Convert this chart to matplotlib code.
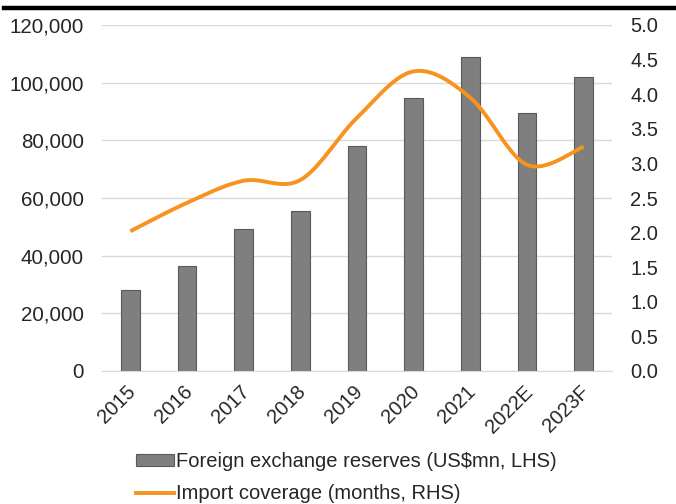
import numpy as np
import matplotlib
matplotlib.use("Agg")
import matplotlib.pyplot as plt
import matplotlib.transforms as mtransforms
from matplotlib.lines import Line2D
from matplotlib.patches import Patch
from matplotlib.ticker import FuncFormatter

plt.rcParams['font.family'] = ['Liberation Sans', 'DejaVu Sans']

categories = ["2015", "2016", "2017", "2018", "2019", "2020", "2021", "2022E", "2023F"]
reserves = [28100, 36400, 49200, 55500, 78000, 94800, 108900, 89600, 101800]
coverage = [2.02, 2.43, 2.75, 2.76, 3.66, 4.33, 3.95, 2.98, 3.24]

bar_color = "#7f7f80"
bar_edge = "#5a5a5a"
line_color = "#f7931e"
text_color = "#262626"

fig = plt.figure(figsize=(6.76, 5.04), dpi=100)
ax = fig.add_axes([102/676, 1-371/504, 510/676, 346/504])
ax2 = ax.twinx()

x = np.arange(len(categories))
ax.bar(x, reserves, width=0.33, color=bar_color, edgecolor=bar_edge, linewidth=0.8, zorder=2)
ax.set_xlim(-0.5, len(categories)-0.5)
ax.set_ylim(0, 120000)
ax.set_yticks(np.arange(0, 120001, 20000))
ax.yaxis.set_major_formatter(FuncFormatter(lambda v, p: f"{int(v):,}"))
ax.grid(axis='y', color="#d9d9d9", linewidth=1, zorder=0)
ax.set_axisbelow(True)
for s in ["top", "right", "left"]:
    ax.spines[s].set_visible(False)
ax.spines["bottom"].set_color("#d9d9d9")
ax.set_xticks(x)
ax.set_xticklabels(categories, rotation=45, ha='right', rotation_mode='anchor')
ax.tick_params(axis='y', length=0, labelsize=14.8, colors=text_color, pad=13)
ax.tick_params(axis='x', length=0, labelsize=14.5, colors=text_color, pad=8)
offset = mtransforms.ScaledTranslation(-4/100, 0, fig.dpi_scale_trans)
for lbl in ax.get_xticklabels():
    lbl.set_transform(lbl.get_transform() + offset)

# smoothed line (Excel-style Catmull-Rom bezier)
def smooth(xs, ys, n=30):
    xs = np.asarray(xs, float); ys = np.asarray(ys, float)
    P = np.column_stack([xs, ys])
    out = []
    for i in range(len(P)-1):
        p0 = P[i-1] if i > 0 else P[i]
        p1 = P[i]; p2 = P[i+1]
        p3 = P[i+2] if i+2 < len(P) else P[i+1]
        c1 = p1 + (p2 - p0)/6
        c2 = p2 - (p3 - p1)/6
        t = np.linspace(0, 1, n)[:, None]
        seg = (1-t)**3*p1 + 3*(1-t)**2*t*c1 + 3*(1-t)*t**2*c2 + t**3*p2
        out.append(seg if i == 0 else seg[1:])
    S = np.vstack(out)
    return S[:, 0], S[:, 1]

sx, sy = smooth(x, coverage)
ax2.plot(sx, sy, color=line_color, linewidth=2.8, solid_capstyle='butt', zorder=3)
ax2.set_ylim(0, 5.0)
ax2.set_yticks(np.arange(0, 5.01, 0.5))
ax2.yaxis.set_major_formatter(FuncFormatter(lambda v, p: f"{v:.1f}"))
for s in ["top", "right", "left", "bottom"]:
    ax2.spines[s].set_visible(False)
ax2.tick_params(axis='y', length=0, labelsize=14.5, colors=text_color, pad=13)

# top rule
fig.add_artist(Line2D([4/676, 1.0], [1-8/504, 1-8/504], color='black', linewidth=3.2))

handles = [Patch(facecolor=bar_color, edgecolor=bar_edge, linewidth=0.8),
           Line2D([0], [0], color=line_color, linewidth=2.8)]
labels = ["Foreign exchange reserves (US$mn, LHS)", "Import coverage (months, RHS)"]
fig.legend(handles, labels, loc='upper left', bbox_to_anchor=(126/676, 1-442/504),
           frameon=False, fontsize=14.5, handlelength=1.9, handleheight=0.55,
           handletextpad=0.1, labelspacing=0.65, labelcolor=text_color, borderpad=0)

fig.savefig("out.png", dpi=100, facecolor='white')
